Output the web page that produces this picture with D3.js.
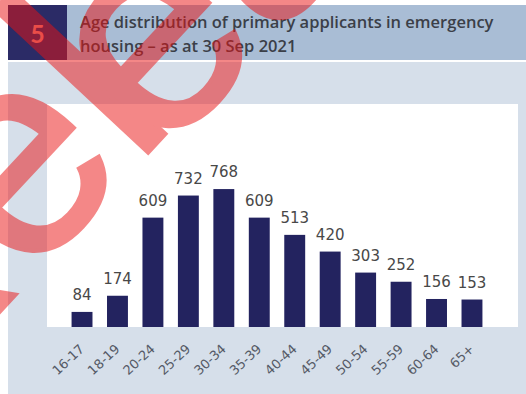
<!DOCTYPE html>
<html><head><meta charset="utf-8">
<script src="https://cdn.jsdelivr.net/npm/d3@7"></script>
<style>html,body{margin:0;padding:0;background:#fff;}svg{display:block;}</style>
</head><body>
<script>
const categories = ["16-17","18-19","20-24","25-29","30-34","35-39","40-44","45-49","50-54","55-59","60-64","65+"];
const values = [84,174,609,732,768,609,513,420,303,252,156,153];
const chartNumber = "5";
const titleLines = ["Age distribution of primary applicants in emergency","housing \u2013 as at 30 Sep 2021"];
const watermarkParts = ["Rel", "eased"];

const W = 526, H = 394;
const svg = d3.select("body").append("svg").attr("width", W).attr("height", H);

// panel
svg.append("rect").attr("x", 8).attr("y", 62).attr("width", W - 8).attr("height", H - 62).attr("fill", "#d6dfea");
svg.append("rect").attr("x", 47).attr("y", 104).attr("width", 471).attr("height", 223).attr("fill", "#ffffff");

// header
svg.append("rect").attr("x", 8).attr("y", 5).attr("width", 59).attr("height", 55).attr("fill", "#2b2b66");
svg.append("rect").attr("x", 67).attr("y", 5).attr("width", W - 67).attr("height", 55).attr("fill", "#a9bdd5");
svg.append("text").attr("x", 37.5).attr("y", 43).attr("text-anchor", "middle")
  .attr("font-family", "Lato, 'Open Sans', sans-serif").attr("font-weight", 700).attr("font-size", 25)
  .attr("fill", "#ec8a80").text(chartNumber);
svg.append("g").selectAll("text").data(titleLines).join("text")
  .attr("x", 80).attr("y", (d, i) => 28 + i * 24)
  .attr("font-family", "'Open Sans', sans-serif").attr("font-weight", 600).attr("font-size", 16.5)
  .attr("fill", "#3b3f48").text(d => d);

// scales
const x = d3.scaleBand().domain(categories).range([64.3, 489.7]).paddingInner(0.41).paddingOuter(0.205);
const y = d3.scaleLinear().domain([0, 1225]).range([327, 107]);

svg.append("g").selectAll("rect").data(values).join("rect")
  .attr("x", (d, i) => x(categories[i])).attr("width", x.bandwidth())
  .attr("y", d => y(d)).attr("height", d => y(0) - y(d))
  .attr("fill", "#23235f");

svg.append("g").selectAll("text").data(values).join("text")
  .attr("x", (d, i) => x(categories[i]) + x.bandwidth() / 2)
  .attr("y", d => y(d) - 12)
  .attr("text-anchor", "middle")
  .attr("font-family", "'DejaVu Sans', sans-serif").attr("font-size", 15)
  .attr("fill", "#484848").text(d => d);

// x axis
const xAxis = svg.append("g").attr("transform", "translate(0,327)")
  .call(d3.axisBottom(x).tickSize(0).tickPadding(0));
xAxis.select(".domain").remove();
xAxis.selectAll("text")
  .attr("font-family", "'DejaVu Sans', sans-serif").attr("font-size", 13)
  .attr("fill", "#555a66")
  .attr("text-anchor", "end")
  .attr("dy", 0)
  .attr("transform", "translate(3,23) rotate(-43)");

// watermark
const wm = svg.append("g").attr("opacity", 0.5);
const wt = wm.append("text").attr("transform", "translate(-118,438) rotate(-47)")
  .attr("font-family", "'Liberation Sans', Arial, sans-serif").attr("font-size", 290)
  .attr("fill", "#ea1212").attr("stroke", "#ea1212").attr("stroke-width", 4);
wt.selectAll("tspan").data(watermarkParts).join("tspan")
  .attr("dx", (d, i) => i === 0 ? 0 : -42).attr("dy", (d, i) => i === 0 ? 0 : 14)
  .text(d => d);
</script>
</body></html>
